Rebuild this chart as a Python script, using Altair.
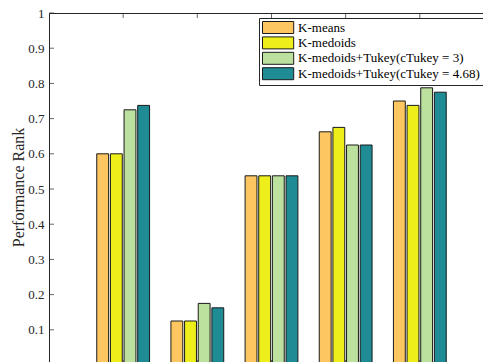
import altair as alt
import pandas as pd

groups = [1, 2, 3, 4, 5]
methods = [
    "K-means",
    "K-medoids",
    "K-medoids+Tukey(cTukey = 3)",
    "K-medoids+Tukey(cTukey = 4.68)",
]
colors = ["#FDC660", "#EEEE1A", "#BCE09D", "#1F8B94"]
kmeans = [0.6, 0.125, 0.5375, 0.6625, 0.75]
kmedoids = [0.6, 0.125, 0.5375, 0.675, 0.7375]
tukey3 = [0.725, 0.175, 0.5375, 0.625, 0.7875]
tukey468 = [0.7375, 0.1625, 0.5375, 0.625, 0.775]
y_ticks = [0, 0.1, 0.2, 0.3, 0.4, 0.5, 0.6, 0.7, 0.8, 0.9, 1.0]

series = [kmeans, kmedoids, tukey3, tukey468]
rows = []
for mi, (m, vals) in enumerate(zip(methods, series)):
    for g, v in zip(groups, vals):
        rows.append({"group": g, "method": m, "idx": mi, "value": v})
df = pd.DataFrame(rows)

W, H = 445, 352
PITCH, BW = 0.184, 0.16
SERIF = "Liberation Serif"

xscale = alt.Scale(domain=[0, 6], nice=False, zero=False)
yscale = alt.Scale(domain=[0, 1], nice=False)

y_axis = alt.Axis(
    values=y_ticks,
    format=".1~f",
    ticks=False,
    domain=False,
    grid=False,
    labelOverlap=False,
    labelFont=SERIF,
    labelFontSize=13,
    labelColor="#262626",
    labelPadding=5,
    title="Performance Rank",
    titleFont=SERIF,
    titleFontSize=16,
    titleFontWeight="normal",
    titleColor="#262626",
    titleX=-26,
    titleY=174,
    titleBaseline="alphabetic",
)

bars = alt.Chart(df).transform_calculate(
    xc=f"datum.group + (datum.idx - 1.5) * {PITCH}"
).transform_calculate(
    x1=f"datum.xc - {BW/2}", x2=f"datum.xc + {BW/2}"
).mark_bar(stroke="#1a1a1a", strokeWidth=1).encode(
    x=alt.X("x1:Q", scale=xscale, axis=None),
    x2="x2:Q",
    y=alt.Y("value:Q", scale=yscale, axis=y_axis),
    y2=alt.datum(0),
    color=alt.Color(
        "method:N",
        scale=alt.Scale(domain=methods, range=colors),
        sort=methods,
        legend=alt.Legend(
            orient="none",
            legendX=210,
            legendY=5,
            title=None,
            symbolType="M-2.6,-1H2.6V1H-2.6Z",
            symbolSize=144,
            symbolStrokeColor="#1a1a1a",
            symbolStrokeWidth=1,
            symbolOffset=9.6,
            labelOffset=13.5,
            labelFont=SERIF,
            labelFontSize=13,
            labelColor="black",
            labelLimit=0,
            strokeColor="#262626",
            fillColor="white",
            padding=3,
            rowPadding=-1.6,
        ),
    ),
)

ydf = pd.DataFrame({"t": y_ticks})
xdf = pd.DataFrame({"g": groups})
tick_style = dict(color="#262626", thickness=1, size=5)

left_ticks = alt.Chart(ydf).mark_tick(orient="horizontal", **tick_style).encode(
    y=alt.Y("t:Q", scale=yscale, axis=y_axis), x=alt.value(2.5)
)
right_ticks = alt.Chart(ydf).mark_tick(orient="horizontal", **tick_style).encode(
    y=alt.Y("t:Q", scale=yscale, axis=y_axis), x=alt.value(W - 2.5)
)
top_ticks = alt.Chart(xdf).mark_tick(orient="vertical", **tick_style).encode(
    x=alt.X("g:Q", scale=xscale, axis=None), y=alt.value(2.5)
)
bottom_ticks = alt.Chart(xdf).mark_tick(orient="vertical", **tick_style).encode(
    x=alt.X("g:Q", scale=xscale, axis=None), y=alt.value(H - 2.5)
)

chart = alt.layer(bars, left_ticks, right_ticks, top_ticks, bottom_ticks).properties(
    width=W,
    height=H,
    autosize=alt.AutoSizeParams(type="none"),
    padding={"left": 41, "top": 5, "right": -11, "bottom": 20},
    background="white",
).configure_view(stroke="#262626", strokeWidth=1)

chart.save("out.html", embed_options={"renderer": "svg", "actions": False})
